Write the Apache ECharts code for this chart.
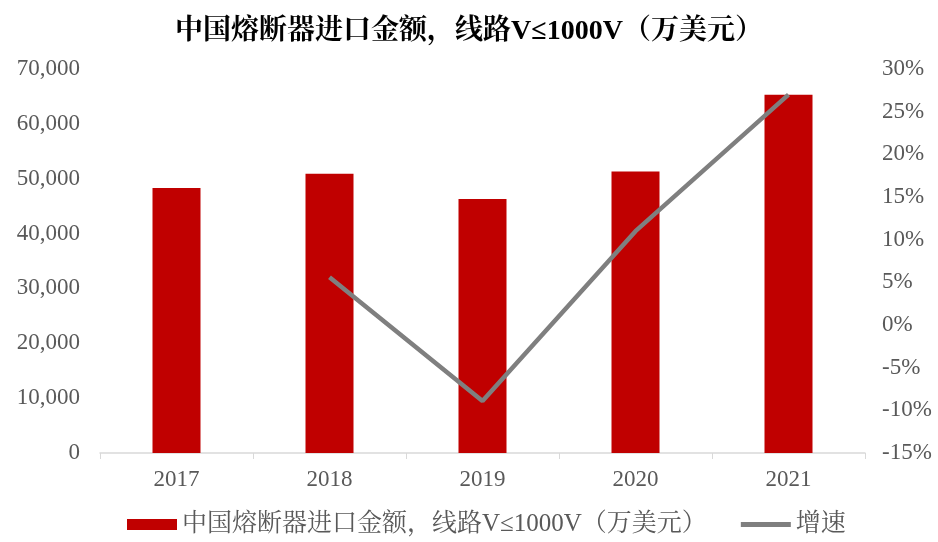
<!DOCTYPE html>
<html>
<head>
<meta charset="utf-8">
<script src="https://cdn.jsdelivr.net/npm/echarts@6/dist/echarts.min.js"></script>
<style>
  html, body { margin: 0; padding: 0; background: #fff; }
  #main { width: 938px; height: 542px; }
</style>
</head>
<body>
<div id="main"></div>
<script>
// 年份
var years = ['2017', '2018', '2019', '2020', '2021'];
// 进口金额（万美元）
var importValues = [48300, 50900, 46300, 51300, 65300];
// 增速（%）
var growthRates = [null, 5.6, -8.9, 11.0, 27.0];

var serif = '"Times New Roman", "Liberation Serif", "Noto Serif CJK SC", "Noto Sans CJK SC", serif';
var labelColor = '#595959';

var chart = echarts.init(document.getElementById('main'));

var option = {
    animation: false,
    title: {
        text: '中国熔断器进口金额，线路V≤1000V（万美元）',
        left: 'center',
        top: 13,
        textStyle: {
            fontFamily: serif,
            fontSize: 28,
            fontWeight: 'bold',
            color: '#000'
        }
    },
    grid: {
        left: 100,
        right: 73,
        top: 69,
        bottom: 89
    },
    legend: {
        bottom: 0,
        left: 122,
        itemGap: 34,
        itemWidth: 50,
        itemHeight: 11,
        textStyle: {
            fontFamily: serif,
            fontSize: 25,
            color: labelColor
        },
        data: [
            { name: '中国熔断器进口金额，线路V≤1000V（万美元）', icon: 'rect' },
            { name: '增速', icon: 'path://M0,0 L50,0 L50,5 L0,5 Z' }
        ]
    },
    xAxis: {
        type: 'category',
        data: years,
        axisLine: { lineStyle: { color: '#d9d9d9', width: 1.5 } },
        axisTick: { show: true, length: 6, lineStyle: { color: '#d9d9d9' } },
        axisLabel: {
            margin: 15,
            fontFamily: serif,
            fontSize: 23,
            color: labelColor
        }
    },
    yAxis: [{
        type: 'value',
        min: 0,
        max: 70000,
        interval: 10000,
        splitLine: { show: false },
        axisLine: { show: false },
        axisTick: { show: false },
        axisLabel: {
            margin: 20,
            fontFamily: serif,
            fontSize: 23,
            color: labelColor,
            formatter: function (v) { return v.toLocaleString('en-US'); }
        }
    }, {
        type: 'value',
        min: -15,
        max: 30,
        interval: 5,
        splitLine: { show: false },
        axisLine: { show: false },
        axisTick: { show: false },
        axisLabel: {
            margin: 17,
            fontFamily: serif,
            fontSize: 23,
            color: labelColor,
            formatter: '{value}%'
        }
    }],
    series: [{
        name: '中国熔断器进口金额，线路V≤1000V（万美元）',
        type: 'bar',
        barWidth: 48,
        itemStyle: { color: '#C00000' },
        data: importValues
    }, {
        name: '增速',
        type: 'line',
        yAxisIndex: 1,
        symbol: 'none',
        lineStyle: { color: '#7F7F7F', width: 4.5 },
        itemStyle: { color: '#7F7F7F' },
        data: growthRates
    }]
};

chart.setOption(option);
</script>
</body>
</html>
